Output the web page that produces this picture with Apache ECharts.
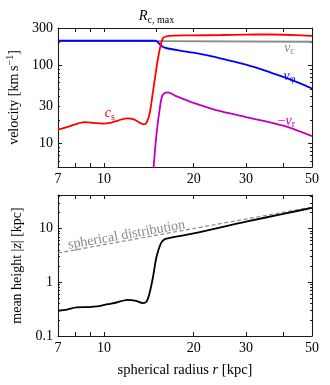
<!DOCTYPE html>
<html>
<head>
<meta charset="utf-8">
<script src="https://cdn.jsdelivr.net/npm/echarts@6/dist/echarts.min.js"></script>
<style>
html, body { margin: 0; padding: 0; background: #fff; }
#chart { width: 330px; height: 385px; }
</style>
</head>
<body>
<div id="chart"></div>
<script>
// spherical radius r [kpc] and velocities [km/s]
const rCirc = [7, 15, 50];
const vCirc = [205, 204, 200];

const rPhi = [7, 10, 13, 14.8, 15.1, 15.35, 15.6, 16.0, 16.4, 18, 20, 22.5, 25, 30, 35, 40, 45, 50];
const vPhi = [206, 206, 206, 206, 200, 188, 177, 168, 164, 154, 145, 133, 121, 102, 85, 71, 60, 50.5];

const rSound = [7, 7.5, 8.0, 8.6, 9.2, 9.9, 10.5, 11.2, 12.0, 12.6, 13.1, 13.6, 13.9, 14.24, 14.6, 14.88, 15.18, 15.5, 15.78, 16.2, 17, 20, 25, 30, 35, 40, 50];
const cSound = [15.1, 16.2, 17.6, 18.7, 18.3, 17.9, 18.3, 19.8, 21.0, 20.3, 18.6, 17.6, 18.5, 24.5, 46, 75, 123, 181, 224, 235, 240, 241, 244, 247, 248, 246, 238];

const rRad = [14.6, 15.0, 15.4, 15.66, 16.0, 16.4, 17.3, 18.0, 20, 24, 30, 40, 50];
const vRad = [4.0, 13, 28.5, 40, 44.3, 45, 41, 38.5, 33, 26.5, 21.8, 16.9, 12.4];

// mean height |z| [kpc]
const rHeight = [7, 7.5, 8.07, 8.9, 9.5, 10.3, 11, 12.0, 12.8, 13.5, 13.9, 14.2, 14.6, 15.0, 15.5, 15.85, 16.2, 20, 30, 40, 50];
const zHeight = [0.295, 0.31, 0.34, 0.345, 0.355, 0.39, 0.42, 0.47, 0.45, 0.41, 0.44, 0.61, 1.24, 2.94, 5.2, 6.1, 6.5, 8.1, 13.4, 18.7, 24.3];

const rSphere = [7, 10, 20, 30, 50];
const zSphere = [3.5, 5, 10, 15, 25];

// ticks and labels
const xTicks = [8, 9, 10, 20, 30, 40];
const xTicksTop = [8, 9, 10, 15, 20, 30, 40];
const xLabels = [7, 10, 20, 30, 50];
const rcMax = [15];

const vMajor = [10, 100];
const vMinor = [6, 7, 8, 9, 20, 30, 40, 50, 60, 70, 80, 90, 200, 300];
const vLabels = [10, 30, 100, 300];

const zMajor = [1, 10];
const zMinor = [0.2, 0.3, 0.4, 0.5, 0.6, 0.7, 0.8, 0.9, 2, 3, 4, 5, 6, 7, 8, 9, 20, 30, 40];
const zLabels = [0.1, 1, 10];

const lg = Math.log10;
const pts = (xs, ys) => xs.map((x, i) => [lg(x), lg(ys[i])]);
const FONT = 'Liberation Serif';
const INK = '#1a1a1a';

const fmt = v => String(+Math.pow(10, v).toPrecision(2));

function richSet(size, color) {
  return {
    t: { fontFamily: FONT, fontSize: size, lineHeight: size + 3, color: color },
    i: { fontFamily: FONT, fontSize: size, fontStyle: 'italic', lineHeight: size + 3, color: color },
    s: { fontFamily: FONT, fontSize: 10, lineHeight: 11, verticalAlign: 'bottom', color: color },
    sup: { fontFamily: FONT, fontSize: 10, lineHeight: 11, verticalAlign: 'top', color: color }
  };
}

function axis(o) {
  const a = {
    type: 'value',
    gridIndex: o.grid,
    position: o.pos,
    min: o.min, max: o.max,
    splitLine: { show: false },
    axisLine: { show: !!o.line, onZero: false, lineStyle: { color: INK, width: 1.1 } },
    axisTick: {
      show: true, inside: true, length: o.len || 4,
      customValues: o.ticks.map(lg),
      lineStyle: { color: INK, width: 1 }
    },
    axisLabel: { show: false }
  };
  if (o.labels) {
    a.axisLabel = {
      show: true,
      customValues: o.labels.map(lg),
      formatter: o.formatter || fmt,
      margin: o.margin || 5,
      color: '#000',
      fontFamily: FONT,
      fontSize: 14,
      rich: richSet(14.5, '#000')
    };
  }
  if (o.name) {
    a.name = o.name;
    a.nameLocation = 'middle';
    a.nameGap = o.nameGap;
    a.nameTextStyle = { color: '#000', fontFamily: FONT, fontSize: o.nameSize, rich: richSet(o.nameSize, '#000') };
  }
  return a;
}

const xMin = lg(7), xMax = lg(50);
const v0 = lg(5), v1 = lg(300);
const z0 = lg(0.1), z1 = lg(42);

function tag(x, y, text, color, rotate) {
  return {
    coord: [lg(x), lg(y)],
    symbolSize: 0,
    label: {
      show: true, position: 'inside', rotate: rotate || 0,
      formatter: text, color: color,
      fontFamily: FONT, fontSize: 14,
      rich: richSet(14, color)
    }
  };
}

const option = {
  animation: false,
  backgroundColor: '#fff',
  grid: [
    { left: 58, right: 18, top: 28, height: 139, outerBoundsMode: 'none' },
    { left: 58, right: 18, top: 195, height: 141, outerBoundsMode: 'none' }
  ],
  xAxis: [
    axis({ grid: 0, pos: 'bottom', min: xMin, max: xMax, ticks: xTicks, labels: xLabels, line: true }),
    axis({ grid: 0, pos: 'top', min: xMin, max: xMax, ticks: xTicksTop, labels: rcMax, line: true,
           margin: 3, formatter: () => '{i|R}{s|c, max}' }),
    axis({ grid: 1, pos: 'bottom', min: xMin, max: xMax, ticks: xTicks, labels: xLabels, line: true,
           name: '{t|spherical radius }{i|r}{t| [kpc]}', nameGap: 25, nameSize: 14.5 }),
    axis({ grid: 1, pos: 'top', min: xMin, max: xMax, ticks: xTicks, line: true })
  ],
  yAxis: [
    axis({ grid: 0, pos: 'left', min: v0, max: v1, ticks: vMajor, labels: vLabels, line: true,
           name: '{t|velocity [km\u2009s}{sup|\u22121}{t|]}', nameGap: 32, nameSize: 14 }),
    axis({ grid: 0, pos: 'left', min: v0, max: v1, ticks: vMinor, len: 2 }),
    axis({ grid: 0, pos: 'right', min: v0, max: v1, ticks: vMajor, line: true }),
    axis({ grid: 0, pos: 'right', min: v0, max: v1, ticks: vMinor, len: 2 }),
    axis({ grid: 1, pos: 'left', min: z0, max: z1, ticks: zMajor, labels: zLabels, line: true,
           name: '{t|mean height |}{i|z}{t|| [kpc]}', nameGap: 32, nameSize: 14 }),
    axis({ grid: 1, pos: 'left', min: z0, max: z1, ticks: zMinor, len: 2 }),
    axis({ grid: 1, pos: 'right', min: z0, max: z1, ticks: zMajor, line: true }),
    axis({ grid: 1, pos: 'right', min: z0, max: z1, ticks: zMinor, len: 2 })
  ],
  series: [
    {
      type: 'line', xAxisIndex: 0, yAxisIndex: 0,
      data: pts(rCirc, vCirc), showSymbol: false,
      lineStyle: { color: '#8a8a8a', width: 1.8 },
      markPoint: { data: [tag(42, 166, '{i|v}{s|c}', '#8a8a8a')] }
    },
    {
      type: 'line', xAxisIndex: 0, yAxisIndex: 0,
      data: pts(rPhi, vPhi), showSymbol: false, smooth: 0.3,
      lineStyle: { color: '#0000ff', width: 1.8 },
      markPoint: { data: [tag(42, 73, '{i|v}{s|\u03c6}', '#0000ff')] }
    },
    {
      type: 'line', xAxisIndex: 0, yAxisIndex: 0,
      data: pts(rSound, cSound), showSymbol: false, smooth: 0.3,
      lineStyle: { color: '#ff0000', width: 1.8 },
      markPoint: { data: [tag(10.45, 24, '{i|c}{s|s}', '#ff0000')] }
    },
    {
      type: 'line', xAxisIndex: 0, yAxisIndex: 0,
      data: pts(rRad, vRad), showSymbol: false, smooth: 0.3,
      lineStyle: { color: '#c000c0', width: 1.8 },
      markPoint: { data: [tag(41, 19.2, '{t|\u2212}{i|v}{s|r}', '#c000c0')] }
    },
    {
      type: 'line', xAxisIndex: 2, yAxisIndex: 4,
      data: pts(rSphere, zSphere), showSymbol: false,
      lineStyle: { color: '#8a8a8a', width: 1.2, type: [4, 2.5] },
      markPoint: { data: [tag(11.9, 7.6, 'spherical distribution', '#8a8a8a', 10)] }
    },
    {
      type: 'line', xAxisIndex: 2, yAxisIndex: 4,
      data: pts(rHeight, zHeight), showSymbol: false, smooth: 0.3,
      lineStyle: { color: '#000', width: 1.8 }
    }
  ]
};

const chart = echarts.init(document.getElementById('chart'));
chart.setOption(option);
</script>
</body>
</html>
